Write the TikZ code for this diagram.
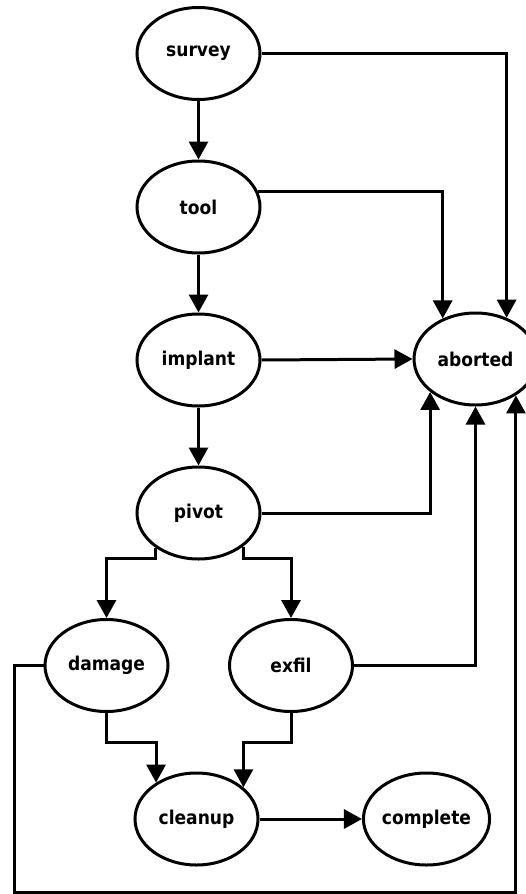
\documentclass[tikz,border=0pt]{standalone}
\usepackage{fontspec}
\setmainfont{DejaVu Sans Condensed}
\usetikzlibrary{shapes.geometric,arrows.meta}
\begin{document}
\begin{tikzpicture}[x=1pt,y=-1pt,
  state/.style={ellipse,draw,line width=3pt,minimum width=123pt,minimum height=92pt,inner sep=0pt,font=\bfseries\fontsize{19}{22}\selectfont},
  arr/.style={line width=3pt,-{Triangle[length=18pt,width=19pt]}}]
\useasboundingbox (0,0) rectangle (526,894);
\node[state] (survey) at (198.5,53.5) {survey};
\node[state] (tool) at (198.5,207) {tool};
\node[state] (implant) at (198.5,360) {implant};
\node[state] (pivot) at (198.5,513) {pivot};
\node[state] (aborted) at (475.5,359) {aborted};
\node[state] (damage) at (106.5,665.5) {damage};
\node[state] (exfil) at (291,665.5) {exfil};
\node[state] (cleanup) at (196.5,819) {cleanup};
\node[state] (complete) at (426.5,819) {complete};
\coordinate (ysplit) at (0,558);
\coordinate (yjoin) at (0,742);
\coordinate (lb) at (14,892);
\draw[arr] (survey) -- (tool);
\draw[arr] (tool) -- (implant);
\draw[arr] (implant) -- (pivot);
\draw[arr] (survey.east) -| (aborted.53.9);
\draw[arr] (tool.15.5) -| (aborted.129.8);
\draw[arr] (implant.east) -- (aborted.west);
\draw[arr] (pivot.east) -| (aborted.216.8);
\draw[arr] (exfil.east) -| (aborted.south);
\draw[arr] (damage.west) -| (lb) -| (aborted.318.2);
\draw[arr] (pivot.219.2) -- (pivot.219.2 |- ysplit) -| (damage.north);
\draw[arr] (pivot.323.2) -- (pivot.323.2 |- ysplit) -| (exfil.north);
\draw[arr] (damage.south) -- (damage.south |- yjoin) -| (cleanup.138.2);
\draw[arr] (exfil.south) -- (exfil.south |- yjoin) -| (cleanup.34.2);
\draw[arr] (cleanup.east) -- (complete.west);
\end{tikzpicture}
\end{document}
